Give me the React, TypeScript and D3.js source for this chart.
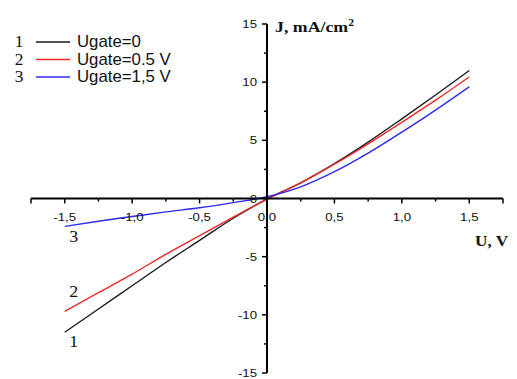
import React from "react";
import * as d3 from "d3";

const voltages = [-1.5, -1.25, -1.0, -0.75, -0.5, -0.25, 0, 0.25, 0.5, 0.75, 1.0, 1.25, 1.5];
const jGate0 = [-11.5, -9.5, -7.5, -5.5, -3.6, -1.7, -0.05, 1.35, 3.0, 4.85, 6.85, 8.9, 11.0];
const jGate05 = [-9.7, -8.1, -6.5, -4.8, -3.2, -1.6, -0.05, 1.35, 2.95, 4.7, 6.55, 8.45, 10.45];
const jGate15 = [-2.4, -1.95, -1.55, -1.15, -0.8, -0.35, 0.15, 1.0, 2.3, 3.9, 5.7, 7.6, 9.6];

const seriesNames = ["Ugate=0", "Ugate=0.5 V", "Ugate=1,5 V"];
const seriesNums = ["1", "2", "3"];
const seriesColors = ["#1a1a1a", "#ee2a2a", "#2b2bee"];

const xTickValues = [-1.5, -1.0, -0.5, 0, 0.5, 1.0, 1.5];
const xTickLabels = ["-1,5", "-1,0", "-0,5", "0,0", "0,5", "1,0", "1,5"];
const xMinorTicks = [-1.75, -1.25, -0.75, -0.25, 0.25, 0.75, 1.25, 1.75];
const yTickValues = [-15, -10, -5, 0, 5, 10, 15];
const yTickLabels = ["-15", "-10", "-5", "0", "5", "10", "15"];
const yMinorTicks = [-12.5, -7.5, -2.5, 2.5, 7.5, 12.5];

export default function App() {
  const x = d3.scaleLinear().domain([-1.75, 1.75]).range([31, 503]);
  const y = d3.scaleLinear().domain([-15, 15]).range([373, 24]);
  const allSeries = [jGate0, jGate05, jGate15];
  const line = d3
    .line<number>()
    .x((_, i) => x(voltages[i]))
    .y((d) => y(d))
    .curve(d3.curveMonotoneX);

  const sans = "'Liberation Sans', Arial, sans-serif";
  const serif = "'Liberation Serif', 'Times New Roman', serif";
  const x0 = x(0);
  const y0 = y(0);
  const sx = 1.15;

  const stretched = (tx: number, ty: number, s = sx) => `translate(${tx},${ty}) scale(${s},1)`;

  // curve label baseline offsets relative to curve starts
  const curveLabelOffsets = [15, -14, 16];

  return (
    <svg
      width={517}
      height={379}
      style={{ position: "absolute", left: 0, top: 0, background: "#fff" }}
    >
      <rect width={517} height={379} fill="#fff" />
      {/* curves */}
      {allSeries.map((s, i) => (
        <path key={i} d={line(s) || ""} fill="none" stroke={seriesColors[i]} strokeWidth={1.4} />
      ))}

      {/* x axis */}
      <line x1={x(-1.75)} x2={x(1.75)} y1={y0} y2={y0} stroke="#000" strokeWidth={2} />
      {xTickValues.map((v) => (
        <line key={v} x1={x(v)} x2={x(v)} y1={y0} y2={y0 + 5} stroke="#000" strokeWidth={1.5} />
      ))}
      {xMinorTicks.map((v) => (
        <line key={v} x1={x(v)} x2={x(v)} y1={y0} y2={y0 + (Math.abs(v) === 1.75 ? 5 : 3)} stroke="#000" strokeWidth={1.5} />
      ))}
      {xTickValues.map((v, i) => (
        <text
          key={v}
          transform={stretched(x(v), y0 + 22)}
          textAnchor="middle"
          fontFamily={sans}
          fontSize={11.5}
          fill="#111"
        >
          {xTickLabels[i]}
        </text>
      ))}

      {/* y axis */}
      <line x1={x0} x2={x0} y1={y(-15)} y2={y(15)} stroke="#000" strokeWidth={2} />
      {yTickValues.map((v) => (
        <line key={v} x1={x0 - 5} x2={x0} y1={y(v)} y2={y(v)} stroke="#000" strokeWidth={1.5} />
      ))}
      {yMinorTicks.map((v) => (
        <line key={v} x1={x0 - 3} x2={x0} y1={y(v)} y2={y(v)} stroke="#000" strokeWidth={1.5} />
      ))}
      {yTickValues.map((v, i) => (
        <text
          key={v}
          transform={stretched(x0 - 10, y(v) + 4)}
          textAnchor="end"
          fontFamily={sans}
          fontSize={11.5}
          fill="#111"
        >
          {yTickLabels[i]}
        </text>
      ))}

      {/* axis titles */}
      <text transform={stretched(x0 + 8, y(15) + 8)} fontFamily={serif} fontWeight="bold" fontSize={15.5} fill="#111">
        J, mA/cm<tspan dy={-6} fontSize={10}>2</tspan>
      </text>
      <text transform={stretched(475, 246)} fontFamily={serif} fontWeight="bold" fontSize={15} fill="#111">
        U, V
      </text>

      {/* curve labels */}
      {allSeries.map((s, i) => (
        <text
          key={i}
          transform={stretched(x(voltages[0]) + 9, y(s[0]) + curveLabelOffsets[i], 1.05)}
          textAnchor="middle"
          fontFamily={serif}
          fontSize={17}
          fill="#111"
        >
          {seriesNums[i]}
        </text>
      ))}

      {/* legend */}
      {seriesNames.map((name, i) => {
        const by = 47 + i * 17.5;
        return (
          <g key={name}>
            <text transform={stretched(19, by, 1.05)} textAnchor="middle" fontFamily={serif} fontSize={16.5} fill="#111">
              {seriesNums[i]}
            </text>
            <line x1={36} x2={70} y1={by - 5} y2={by - 5} stroke={seriesColors[i]} strokeWidth={1.4} />
            <text transform={stretched(77, by, 1.05)} fontFamily={sans} fontSize={16} fill="#111">
              {name}
            </text>
          </g>
        );
      })}
    </svg>
  );
}
